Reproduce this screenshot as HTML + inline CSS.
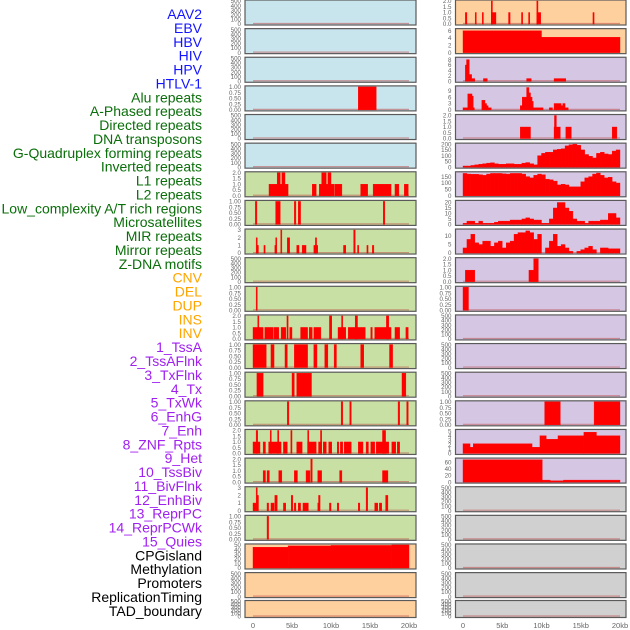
<!DOCTYPE html>
<html><head><meta charset="utf-8"><style>
html,body{margin:0;padding:0;background:#fff;width:630px;height:630px;overflow:hidden}
svg{display:block}
</style></head><body>
<svg id="c" width="630" height="630" xmlns="http://www.w3.org/2000/svg"></svg>
<script>
// ---------- data ----------
const trackLabels = ["AAV2","EBV","HBV","HIV","HPV","HTLV-1","Alu repeats","A-Phased repeats","Directed repeats","DNA transposons","G-Quadruplex forming repeats","Inverted repeats","L1 repeats","L2 repeats","Low_complexity A/T rich regions","Microsatellites","MIR repeats","Mirror repeats","Z-DNA motifs","CNV","DEL","DUP","INS","INV","1_TssA","2_TssAFlnk","3_TxFlnk","4_Tx","5_TxWk","6_EnhG","7_Enh","8_ZNF_Rpts","9_Het","10_TssBiv","11_BivFlnk","12_EnhBiv","13_ReprPC","14_ReprPCWk","15_Quies","CPGisland","Methylation","Promoters","ReplicationTiming","TAD_boundary"];
const labelGroups = [0,0,0,0,0,0,1,1,1,1,1,1,1,1,1,1,1,1,1,2,2,2,2,2,3,3,3,3,3,3,3,3,3,3,3,3,3,3,3,4,4,4,4,4];
const groupColors = ["#1414ff","#0a6e0a","#ffa500","#a020f0","#000000"];
const xTickValues = [0,5,10,15,20];
const xTickLabels = ["0","5kb","10kb","15kb","20kb"];

const col1Max = [500,500,500,1,500,500,2,1,3,500,1,2,1,1,1,2,2,3,1,50,500,500];
const col1Ticks = [
 [0,100,200,300,400,500],[0,100,200,300,400,500],[0,100,200,300,400,500],
 ["0.00","0.25","0.50","0.75","1.00"],[0,100,200,300,400,500],[0,100,200,300,400,500],
 ["0.0","0.5","1.0","1.5","2.0"],["0.00","0.25","0.50","0.75","1.00"],[0,1,2,3],
 [0,100,200,300,400,500],["0.00","0.25","0.50","0.75","1.00"],["0.0","0.5","1.0","1.5","2.0"],
 ["0.00","0.25","0.50","0.75","1.00"],["0.00","0.25","0.50","0.75","1.00"],["0.00","0.25","0.50","0.75","1.00"],
 ["0.0","0.5","1.0","1.5","2.0"],["0.0","0.5","1.0","1.5","2.0"],[0,1,2,3],
 ["0.00","0.25","0.50","0.75","1.00"],[0,10,20,30,40,50],[0,100,200,300,400,500],[0,100,200,300,400,500]];
const col1Segs = [
 [],[],[],
 [[13.5,15.8,1]],
 [],[],
 [[2.05,4.5,1],[3.1,3.5,2],[3.7,4.1,2],[7.6,8.1,1],[8.5,10.4,1],[8.8,9.4,2],[9.6,10.0,2],[10.5,11.4,1],[13.8,14.7,1],[15.4,17.7,1],[18.2,18.7,1],[19.4,19.9,1]],
 [[0.3,0.5,1],[2.9,3.5,1],[5.3,5.5,1],[5.8,6.1,1],[16.7,16.9,1]],
 [[0.4,0.55,2],[0.5,0.7,1],[1.4,1.55,1],[2.8,3.0,1],[2.9,3.0,2],[3.55,3.7,3],[4.4,4.7,2],[5.6,5.9,1],[6.3,6.8,1],[7.8,8.3,1],[8.0,8.15,2],[11.6,11.9,1],[12.9,13.1,3],[13.4,13.55,1],[14.6,14.75,1],[15.3,15.5,1]],
 [],
 [[0.4,0.55,1]],
 [[0,1.3,1],[0.6,0.75,2],[1.5,2.6,1],[2.7,3.3,1],[3.6,4.2,1],[4.35,4.5,2],[4.7,5.0,1],[6.1,7.0,1],[7.2,7.6,1],[7.8,8.7,1],[9.8,10.1,2],[10.9,11.9,1],[11.35,11.5,2],[12.2,14.4,1],[13.1,13.4,2],[15.1,15.3,1],[15.6,17.7,1],[17.1,17.4,2],[18.2,18.8,1],[19.6,19.9,1]],
 [[0,1.7,1],[2.3,2.7,1],[4.1,4.4,1],[5.3,7.0,1],[7.8,8.2,1],[9.2,9.6,1],[10.4,10.7,1],[13.8,14.2,1],[17.5,17.9,1]],
 [[0.5,1.3,1],[5.0,5.3,1],[5.6,7.5,1],[19.1,19.6,1]],
 [[4.4,4.6,1],[11.3,11.5,1],[12.4,12.6,1],[18.6,18.8,1],[19.7,19.9,1]],
 [[0,0.9,1],[0.4,0.6,2],[1.3,1.6,1],[2.0,3.6,1],[2.2,2.3,2],[3.15,3.3,2],[3.9,4.4,1],[4.85,5.0,2],[5.6,6.3,1],[7.0,8.1,1],[7.0,7.15,2],[8.4,8.8,1],[8.65,8.8,2],[9.0,9.4,1],[9.7,10.1,1],[10.8,11.0,1],[11.2,11.5,1],[11.7,12.6,1],[13.5,14.1,1],[14.5,14.8,1],[15.1,15.6,1],[15.8,16.0,1],[16.0,17.4,1],[16.6,17.0,2],[17.8,18.3,1],[18.5,18.8,1]],
 [[1.3,1.6,1],[1.8,2.1,1],[3.3,3.7,1],[5.3,5.7,1],[6.8,7.3,1],[7.4,7.6,2],[8.3,8.8,1],[11.1,11.4,1],[16.6,17.3,1]],
 [[0,0.4,1],[0.4,0.55,3],[0.55,0.65,2],[1.8,2.0,1],[2.3,2.7,1],[2.8,3.1,2],[3.9,4.2,1],[4.9,5.1,2],[5.3,5.5,1],[5.8,6.1,1],[6.4,7.1,1],[8.3,8.5,1],[8.4,8.6,2],[9.8,10.0,1],[10.8,11.0,1],[13.5,13.7,1],[14.5,14.7,3],[15.6,16.0,1],[16.2,16.5,1],[17.0,17.3,2]],
 [[1.8,2.0,1]],
 [[0,4.5,45],[4.5,10,48],[10,17.8,49],[17.8,20,50]],
 [],[]
];

const col2Max = [2,6.3,8.5,10.8,2,200,180,21,13.5,2,1,500,500,500,1,5.2,70,500,500,500,500,500];
const col2Ticks = [
 ["0.0","0.5","1.0","1.5","2.0"],[0,2,4,6],[0,2,4,6,8],[0,3,6,9],["0.0","0.5","1.0","1.5","2.0"],
 [0,50,100,150,200],[0,50,100,150],[0,5,10,15,20],[0,5,10],["0.0","0.5","1.0","1.5","2.0"],
 ["0.00","0.25","0.50","0.75","1.00"],[0,100,200,300,400,500],[0,100,200,300,400,500],[0,100,200,300,400,500],
 ["0.00","0.25","0.50","0.75","1.00"],[0,1,2,3,4,5],[0,20,40,60],
 [0,100,200,300,400,500],[0,100,200,300,400,500],[0,100,200,300,400,500],[0,100,200,300,400,500],[0,100,200,300,400,500]];
const g4Profile = [10,10,15,20,25,30,35,38,30,25,25,30,30,25,25,35,40,30,20,100,120,130,130,150,155,160,185,195,200,190,150,110,95,80,120,130,115,110,140,150];
const invertedProfile = [175,170,168,168,165,160,170,175,175,175,172,170,175,175,175,170,150,140,160,170,165,130,125,115,85,90,85,70,70,70,110,140,150,170,178,160,140,145,110,100];
const lowComplexProfile = [1,3,3,1,3,1,1,1,2,3,3,3,4,4,4,5,6,5,4,4,1,1,5,15,20,20,15,12,5,3,3,1,3,3,3,4,4,10,10,6];
const microsatProfile = [3,8,11,6,5,7,7,4,6,7,3,6,7,11,12,12,13,12,8,11,0,3,7,11,4,5,3,1,0,1,2,3,4,2,0,3,3,2.5,2.5,2.5];
const col2Segs = [
 [[0.3,0.5,1],[1.55,1.7,1],[2.45,2.6,1],[3.6,4.2,1],[3.6,3.75,2],[5.8,6.0,1],[7.45,7.6,1],[8.35,8.5,1],[9.4,9.9,1],[9.4,9.55,2],[16.55,16.7,1]],
 [[0,10,6],[10,20,4.2]],
 [[0.3,0.45,6],[0.45,0.8,8],[0.8,1.1,2.5],[1.1,1.5,1],[2.6,3.1,1],[8.1,8.7,1],[11.6,13.1,1]],
 [[0,0.6,1],[0.6,1.15,7.5],[1.15,1.3,6.5],[1.3,1.4,1],[2.4,2.8,4.5],[2.8,3.0,3],[3.0,3.2,2],[3.2,3.6,1],[7.3,7.55,2],[7.55,8.1,6],[8.1,8.4,10.5],[8.4,8.6,8],[8.6,8.8,6],[8.8,8.9,4],[8.9,10.2,1],[11.0,11.4,1],[11.6,12.5,3],[12.5,12.7,2],[12.7,13.0,3],[13.0,13.4,1]],
 [[7.3,8.6,1],[11.6,12.4,1],[11.65,11.9,2],[13.1,13.8,1],[19.0,19.6,1]],
 "g4","inv","low","micro",
 [[0.3,1.5,1],[8.4,9.0,1],[9.0,9.6,2]],
 [[0,0.7,1]],
 [],[],[],
 [[10.4,12.4,1],[16.7,20,1]],
 [[0,0.9,2.2],[0.9,1.3,1.4],[1.3,8.8,2.2],[8.8,9.8,1.4],[9.8,10.6,4],[10.6,12.1,3.2],[12.1,15.4,4],[15.4,17,4.8],[17,20,4]],
 [[0,10.1,68],[10.1,11.1,6],[11.1,12.8,4],[12.8,20,6]],
 [],[],[],[],[]
];
const profiles = {g4:g4Profile, inv:invertedProfile, low:lowComplexProfile, micro:microsatProfile};
const binKb = 0.5;

const col1Bg = i => i<6 ? "#c8e4ec" : (i<19 ? "#c8e0a4" : "#fed09e");
const col2Bg = i => i<2 ? "#fed09e" : (i<17 ? "#d5c7e3" : "#d0d0d0");

// ---------- drawing ----------
const NS="http://www.w3.org/2000/svg";
const svg=document.getElementById("c");
function mk(tag,attrs,parent){const e=document.createElementNS(NS,tag);for(const k in attrs)e.setAttribute(k,attrs[k]);(parent||svg).appendChild(e);return e;}

trackLabels.forEach((t,i)=>{
  const e=mk("text",{x:202,y:14+i*13.88+5,"text-anchor":"end","font-family":"Liberation Sans, sans-serif","font-size":"14",fill:groupColors[labelGroups[i]]});
  e.textContent=t;
  
  
});

const panelTop = i => i<21 ? i*28.63 : 600.5;
const panelH = i => i<21 ? 25 : 17;
const cols = [{x0:245,x1:416,z:253,s:7.8,max:col1Max,ticks:col1Ticks,segs:col1Segs,bg:col1Bg,name:"left"},
              {x0:455.5,x1:626,z:463,s:7.85,max:col2Max,ticks:col2Ticks,segs:col2Segs,bg:col2Bg,name:"right"}];

cols.forEach(c=>{
  const xs = kb => c.z + kb*c.s;
  for(let i=0;i<22;i++){
    const T=panelTop(i), H=panelH(i);
    const g=mk("g",{});
    
    
    mk("rect",{x:c.x0,y:T,width:c.x1-c.x0,height:H,fill:c.bg(i),stroke:"#5a5a5a","stroke-width":1.2},g);
    const ymax=c.max[i];
    const ys = v => (T+H-1) - (v/ymax)*(H-2);
    const tk=c.ticks[i];
    tk.forEach(lab=>{
      const v=parseFloat(lab);
      const e=mk("text",{x:c.x0-4,y:ys(v)+2.2,"text-anchor":"end","font-family":"Liberation Sans, sans-serif","font-size":"6.2",fill:"#666"},g);
      e.textContent=lab;
      
      
    });
    mk("line",{x1:xs(0),x2:xs(20),y1:ys(0)-0.5,y2:ys(0)-0.5,stroke:"#b44","stroke-width":1.2,"stroke-opacity":0.5},g);
    let segs=c.segs[i];
    if(typeof segs==="string"){
      const p=profiles[segs];
      segs=p.map((v,k)=>[k*binKb,(k+1)*binKb,v]);
    }
    segs.forEach(s=>{
      const x1=xs(s[0]), x2=xs(s[1]);
      const r=mk("rect",{x:x1,y:ys(s[2]),width:Math.max(1.2,x2-x1),height:ys(0)-ys(s[2]),fill:"#ff0000",stroke:"#ff0000","stroke-width":0.4},g);
      
      
    });
  }
  xTickValues.forEach((v,k)=>{
    const e=mk("text",{x:xs(v),y:628,"text-anchor":"middle","font-family":"Liberation Sans, sans-serif","font-size":"7.5",fill:"#666"});
    e.textContent=xTickLabels[k];
    
    
  });
});
</script>
</body></html>
